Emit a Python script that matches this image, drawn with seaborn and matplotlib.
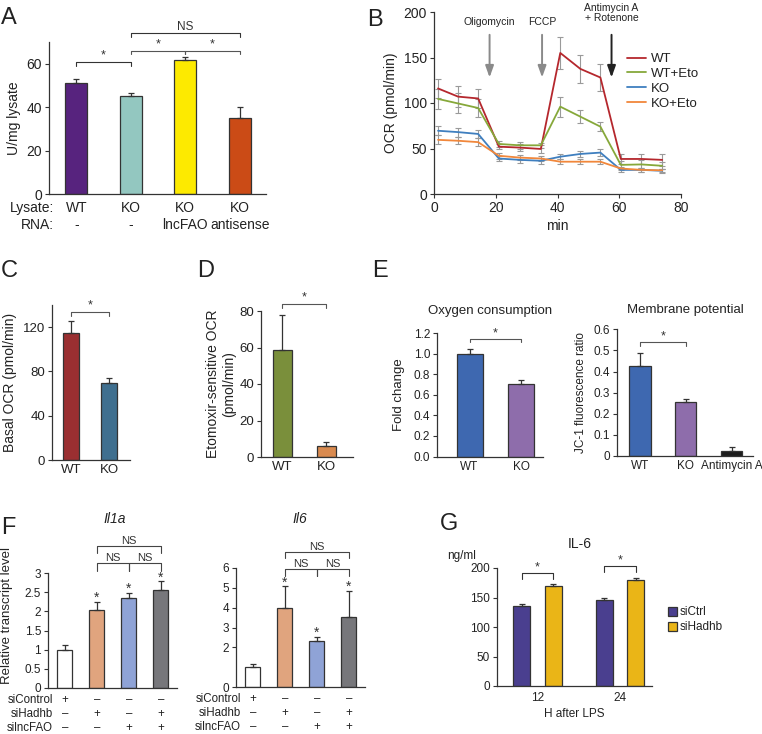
import numpy as np
import pandas as pd
import matplotlib
matplotlib.use("Agg")
import matplotlib.pyplot as plt
import seaborn as sns

# ---------------- data ----------------
# A: FAO activity
a_groups = ["WT", "KO", "KO lncFAO", "KO antisense"]
a_ticklabels = ["WT\n-", "KO\n-", "KO\nlncFAO", "KO\nantisense"]
a_vals = [51, 45, 61.5, 35]
a_err = [2, 1.5, 1.5, 5]
a_colors = ["#57237e", "#93c7c0", "#fdea00", "#cb4b16"]

# B: Seahorse OCR trace
b_time = [1.3, 7.8, 14.3, 21.0, 27.8, 34.6, 40.9, 47.4, 53.9, 60.5, 67.2, 73.9]
b_series = ["WT", "WT+Eto", "KO", "KO+Eto"]
b_wt = [116, 107, 105, 52, 51, 49.5, 155, 137.5, 128, 38.5, 38.5, 37.5]
b_wt_err = [10.5, 11.5, 10.5, 3, 4, 4, 17.5, 15, 15, 5.5, 6, 7]
b_wteto = [104.5, 99.5, 94.5, 55, 53.5, 53.5, 96, 85, 74, 32, 32.5, 31]
b_wteto_err = [11, 11, 10, 3, 4, 3, 11, 7.5, 5, 4, 5, 4]
b_ko = [69.5, 68, 66, 39, 37.5, 36.5, 41, 44, 45.5, 26.5, 26.5, 25.5]
b_ko_err = [5, 5, 4, 3, 3, 3, 3, 3, 4, 2, 2, 2]
b_koeto = [59.5, 58.5, 57, 42, 40, 39, 35.5, 35.5, 35.5, 28, 26.5, 26]
b_koeto_err = [5, 4, 4, 3, 3, 3, 3, 3, 3, 2, 2, 2]
b_colors = ["#b5272d", "#86a83a", "#3f7fbf", "#f1873b"]

# C: basal OCR
c_groups = ["WT", "KO"]
c_vals = [115, 69.5]
c_err = [11, 5]
c_colors = ["#9a2f31", "#3f6f8f"]

# D: etomoxir-sensitive OCR
d_groups = ["WT", "KO"]
d_vals = [58.5, 6]
d_err = [19.5, 2.3]
d_colors = ["#7a8f3b", "#d98a4f"]

# E: oxygen consumption / membrane potential
e1_groups = ["WT", "KO"]
e1_vals = [1.0, 0.705]
e1_err = [0.04, 0.035]
e2_groups = ["WT", "KO", "Antimycin A"]
e2_vals = [0.425, 0.255, 0.025]
e2_err = [0.065, 0.015, 0.018]
e_colors = ["#3e68b0", "#8e6dab", "#1c1c1c"]

# F: transcript levels
f_groups = ["siControl", "siHadhb", "silncFAO", "siHadhb+silncFAO"]
f_signs = ["+\n\u2013\n\u2013", "\u2013\n+\n\u2013", "\u2013\n\u2013\n+", "\u2013\n+\n+"]
f_rows = "siControl\nsiHadhb\nsilncFAO"
f1_vals = [1.0, 2.03, 2.36, 2.56]
f1_err = [0.12, 0.21, 0.13, 0.22]
f2_vals = [1.01, 4.0, 2.31, 3.53]
f2_err = [0.17, 1.07, 0.22, 1.32]
f_colors = ["#ffffff", "#e0a47e", "#8fa3d6", "#77777b"]

# G: IL-6 ELISA
g_hours = ["12", "24"]
g_groups = ["siCtrl", "siHadhb"]
g_ctrl = [136, 145.5]
g_ctrl_err = [3.5, 4.5]
g_hadhb = [170, 179.5]
g_hadhb_err = [3, 3.5]
g_colors = ["#4a3f8f", "#eab517"]

# ---------------- figure ----------------
sns.set_style("ticks")
plt.rcParams["font.family"] = ["Liberation Sans", "DejaVu Sans"]
plt.rcParams["axes.edgecolor"] = "#333333"
plt.rcParams["axes.linewidth"] = 0.9
plt.rcParams["text.color"] = "#222222"
plt.rcParams["axes.labelcolor"] = "#222222"
plt.rcParams["xtick.color"] = "#333333"
plt.rcParams["ytick.color"] = "#333333"
plt.rcParams["xtick.labelcolor"] = "#222222"
plt.rcParams["ytick.labelcolor"] = "#222222"

W, H = 762, 734
fig = plt.figure(figsize=(W / 100, H / 100), dpi=100)


def add_ax(l, t, r, b):
    return fig.add_axes([l / W, 1 - b / H, (r - l) / W, (b - t) / H])


def ftext(x, y, s, **kw):
    fig.text(x / W, 1 - y / H, s, **kw)


def bars(ax, cats, vals, errs, colors, width, fs, ecol="#333333"):
    df = pd.DataFrame({"cat": cats, "val": vals})
    sns.barplot(data=df, x="cat", y="val", hue="cat", palette=colors,
                legend=False, width=width, edgecolor=ecol, linewidth=0.9,
                saturation=1, errorbar=None, ax=ax)
    n = len(vals)
    ax.errorbar(range(n), vals, yerr=[np.zeros(n), errs], fmt="none",
                ecolor="#333333", elinewidth=0.9, capsize=2.5, capthick=0.9)
    ax.set_xlabel("")
    ax.set_ylabel("")
    sns.despine(ax=ax)
    ax.tick_params(axis="y", length=3, width=0.8, labelsize=fs, pad=2)
    ax.tick_params(axis="x", length=0, labelsize=fs, pad=3)


def bracket(ax, x1, x2, y, h, s, fs=9, col="#555555", dy=0.0):
    ax.plot([x1, x1, x2, x2], [y - h, y, y, y - h], color=col, lw=0.8,
            clip_on=False)
    ax.text((x1 + x2) / 2, y + dy, s, ha="center", va="bottom", fontsize=fs,
            color="#333333")


# ---- A ----
axA = add_ax(49, 42, 266, 194)
bars(axA, a_groups, a_vals, a_err, a_colors, 0.41, 10)
axA.set_xlim(-0.5, 3.48)
axA.set_ylim(0, 70)
axA.set_yticks([0, 20, 40, 60])
axA.set_xticks(range(4))
axA.set_xticklabels(a_ticklabels, linespacing=1.3)
axA.tick_params(axis="x", pad=5)
axA.set_ylabel("U/mg lysate", fontsize=10, labelpad=4)
ftext(54, 201, "Lysate:\nRNA:", ha="right", va="top", fontsize=10,
      linespacing=1.3)
bracket(axA, 0, 1, 61, 2, "*", col="#333333")
bracket(axA, 1, 2, 66, 1.6, "*")
bracket(axA, 2, 3, 66, 1.6, "*")
bracket(axA, 1, 3, 74.3, 1.8, "NS", fs=8.5, col="#333333")

# ---- B ----
axB = add_ax(434, 12, 681, 194)
b_vals = [b_wt, b_wteto, b_ko, b_koeto]
b_errs = [b_wt_err, b_wteto_err, b_ko_err, b_koeto_err]
rows = []
for name, vals in zip(b_series, b_vals):
    for t, v in zip(b_time, vals):
        rows.append({"min": t, "OCR": v, "group": name})
df_b = pd.DataFrame(rows)
for vals, errs in zip(b_vals, b_errs):
    axB.errorbar(b_time, vals, yerr=errs, fmt="none", ecolor="#9a9a9a",
                 elinewidth=0.8, capsize=2, capthick=0.8, zorder=1)
sns.lineplot(data=df_b, x="min", y="OCR", hue="group", hue_order=b_series,
             palette=b_colors, lw=1.3, ax=axB, zorder=2)
axB.set_xlim(0, 80)
axB.set_ylim(0, 200)
axB.set_xticks([0, 20, 40, 60, 80])
axB.set_yticks([0, 50, 100, 150, 200])
axB.set_xlabel("min", fontsize=10, labelpad=3)
axB.set_ylabel("OCR (pmol/min)", fontsize=10, labelpad=4)
sns.despine(ax=axB)
axB.tick_params(length=3, width=0.8, labelsize=10, pad=2)
axB.legend(frameon=False, loc="upper left", bbox_to_anchor=(0.78, 0.775),
           fontsize=9.5, handlelength=1.5, labelspacing=0.2,
           handletextpad=0.35, borderaxespad=0, borderpad=0)
arrows = [(18, "Oligomycin", "#8a8a8a"), (35, "FCCP", "#8a8a8a"),
          (57.5, "Antimycin A\n+ Rotenone", "#222222")]
for x, lab, col in arrows:
    axB.annotate("", xy=(x, 125), xytext=(x, 178),
                 arrowprops=dict(arrowstyle="-|>,head_length=0.7,head_width=0.25",
                                 color=col, lw=1.4, mutation_scale=10))
    ty = 199 if "\n" in lab else 189
    axB.text(x, ty, lab, ha="center", va="center", fontsize=7.5,
             linespacing=1.05, color="#222222")

# ---- C ----
axC = add_ax(52, 305, 130, 460)
bars(axC, c_groups, c_vals, c_err, c_colors, 0.42, 9.5)
axC.set_xlim(-0.5, 1.55)
axC.set_ylim(0, 140)
axC.set_yticks([0, 40, 80, 120])
axC.set_ylabel("Basal OCR (pmol/min)", fontsize=10, labelpad=4)
bracket(axC, 0, 1, 134, 4, "*")

# ---- D ----
axD = add_ax(261, 311, 353, 457)
bars(axD, d_groups, d_vals, d_err, d_colors, 0.43, 9.5)
axD.set_xlim(-0.48, 1.61)
axD.set_ylim(0, 80)
axD.set_yticks([0, 20, 40, 60, 80])
axD.set_ylabel("Etomoxir-sensitive OCR\n(pmol/min)", fontsize=10, labelpad=2)
bracket(axD, 0, 1, 84, 2.5, "*")

# ---- E ----
axE1 = add_ax(437, 333, 543, 456.5)
bars(axE1, e1_groups, e1_vals, e1_err, e_colors[:2], 0.5, 8.5)
axE1.set_xlim(-0.63, 1.42)
axE1.set_ylim(0, 1.2)
axE1.set_yticks(np.arange(0, 1.21, 0.2))
axE1.set_yticklabels([f"{v:.1f}" for v in np.arange(0, 1.21, 0.2)])
axE1.set_ylabel("Fold change", fontsize=9.5, labelpad=6)
axE1.set_title("Oxygen consumption", fontsize=9.5, pad=14)
bracket(axE1, 0, 1, 1.14, 0.03, "*")

axE2 = add_ax(617, 329.3, 753, 456)
bars(axE2, e2_groups, e2_vals, e2_err, e_colors, 0.46, 8.5)
axE2.set_xlim(-0.5, 2.46)
axE2.set_ylim(0, 0.6)
axE2.set_yticks(np.arange(0, 0.61, 0.1))
axE2.set_yticklabels(["0"] + [f"{v:.1f}" for v in np.arange(0.1, 0.61, 0.1)])
axE2.set_ylabel("JC-1 fluorescence ratio", fontsize=8.5, labelpad=5)
axE2.set_title("Membrane potential", fontsize=9.5, pad=12)
bracket(axE2, 0, 1, 0.54, 0.02, "*")

# ---- F ----
for ax_box, vals, errs, ylim, yt, title, tx, br in [
        ((48, 573, 177, 688), f1_vals, f1_err, 3, [0, 0.5, 1, 1.5, 2, 2.5, 3],
         "Il1a", 115, (3.26, 0.2, 3.70, 0.17, 0.08)),
        ((236, 568, 365, 687), f2_vals, f2_err, 6, [0, 2, 3, 4, 5, 6],
         "Il6", 300, (5.93, 0.34, 6.82, 0.34, 0.15))]:
    ax = add_ax(*ax_box)
    bars(ax, f_groups, vals, errs, f_colors, 0.47, 8.5)
    ax.set_xlim(-0.53, 3.51)
    ax.set_ylim(0, ylim)
    ax.set_yticks(yt)
    ax.set_yticklabels([f"{v:g}" for v in yt])
    ax.set_xticks(range(4))
    ax.set_xticklabels(f_signs, linespacing=1.22, fontsize=8.3)
    ax.tick_params(axis="x", pad=4.5)
    ftext(ax_box[0] + 5, ax_box[3] + 6.2, f_rows, ha="right", va="top",
          fontsize=8.3, linespacing=1.22)
    ftext(tx, 519, title, ha="center", va="center", fontsize=10,
          style="italic")
    for i in range(1, 4):
        ax.text(i, vals[i] + errs[i] - br[4], "*", ha="center", va="bottom",
                fontsize=10, color="#333333")
    bracket(ax, 1, 2, br[0], br[1], "NS", fs=8, col="#444444")
    bracket(ax, 2, 3, br[0], br[1], "NS", fs=8, col="#444444")
    bracket(ax, 1, 3, br[2], br[3], "NS", fs=8, col="#444444")
    if title == "Il1a":
        ax.set_ylabel("Relative transcript level", fontsize=9.5)
        ax.yaxis.set_label_coords(-0.27, 0.63)

# ---- G ----
axG = add_ax(497, 568, 652, 686)
df_g = pd.DataFrame({
    "hour": g_hours * 2,
    "group": [g_groups[0]] * 2 + [g_groups[1]] * 2,
    "val": g_ctrl + g_hadhb,
})
sns.barplot(data=df_g, x="hour", y="val", hue="group", hue_order=g_groups,
            palette=g_colors, width=0.76, gap=0.46, edgecolor="#333333",
            linewidth=0.9, saturation=1, errorbar=None, ax=axG)
off = 0.19
xs = np.arange(len(g_hours))
axG.errorbar(xs - off, g_ctrl, yerr=[np.zeros(2), g_ctrl_err], fmt="none",
             ecolor="#333333", elinewidth=0.9, capsize=2.5, capthick=0.9)
axG.errorbar(xs + off, g_hadhb, yerr=[np.zeros(2), g_hadhb_err], fmt="none",
             ecolor="#333333", elinewidth=0.9, capsize=2.5, capthick=0.9)
axG.set_xlim(-0.49, 1.39)
axG.set_ylim(0, 200)
axG.set_yticks([0, 50, 100, 150, 200])
axG.set_xlabel("H after LPS", fontsize=8.5, labelpad=3)
axG.set_ylabel("")
sns.despine(ax=axG)
axG.tick_params(axis="y", length=3, width=0.8, labelsize=8.5, pad=2)
axG.tick_params(axis="x", length=0, labelsize=8.5, pad=4)
leg = axG.legend(frameon=False, loc="center left", bbox_to_anchor=(1.1, 0.56),
                 fontsize=8.5, handlelength=0.8, handleheight=0.8,
                 handletextpad=0.25, labelspacing=0.25, borderpad=0,
                 borderaxespad=0)
for h in leg.legend_handles:
    h.set_edgecolor("#333333")
bracket(axG, -off, off, 191.5, 10, "*", col="#333333")
bracket(axG, 1 - off, 1 + off, 203.4, 10, "*", col="#333333")
ftext(580, 544, "IL-6", ha="center", va="center", fontsize=10)
ftext(462, 556, "ng/ml", ha="center", va="center", fontsize=8.5)

# ---- panel letters ----
for lab, x, y in [("A", 1, 7), ("B", 367, 9), ("C", 1, 260), ("D", 197, 260),
                  ("E", 372, 260), ("F", 1, 517), ("G", 440, 513)]:
    ftext(x, y, lab, ha="left", va="top", fontsize=17)

fig.savefig("out.png", dpi=100)
